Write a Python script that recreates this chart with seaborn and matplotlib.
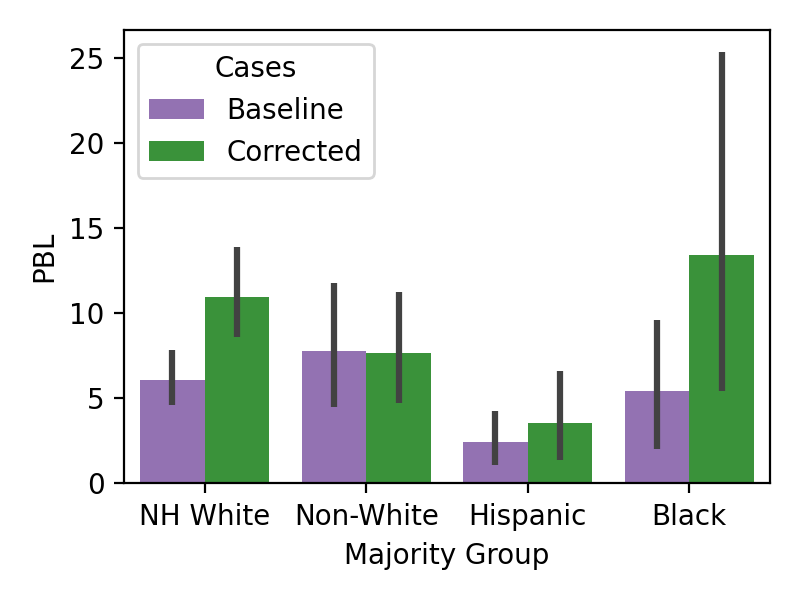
import matplotlib
matplotlib.use('Agg')
import matplotlib.pyplot as plt
import seaborn as sns
import pandas as pd
import numpy as np

# ── Data ───────────────────────────────────────────────────────────────────
groups = ['NH White', 'Non-White', 'Hispanic', 'Black']
cases = ['Baseline', 'Corrected']
baseline_mean = [6.1, 7.75, 2.45, 5.4]
corrected_mean = [10.95, 7.65, 3.55, 13.4]
baseline_lo = [4.6, 4.5, 1.1, 2.0]
baseline_hi = [7.85, 11.75, 4.25, 9.6]
corrected_lo = [8.6, 4.75, 1.4, 5.45]
corrected_hi = [13.9, 11.25, 6.6, 25.35]

df = pd.DataFrame({
    'Majority Group': groups * 2,
    'Cases': ['Baseline'] * 4 + ['Corrected'] * 4,
    'PBL': baseline_mean + corrected_mean,
    'lo': baseline_lo + corrected_lo,
    'hi': baseline_hi + corrected_hi,
})

fig, ax = plt.subplots(figsize=(4, 3), dpi=200)
sns.barplot(data=df, x='Majority Group', y='PBL', hue='Cases',
            order=groups, hue_order=cases,
            palette=['tab:purple', 'tab:green'], errorbar=None, ax=ax)

# error bars at the bar centres
for container, case in zip(ax.containers, cases):
    sub = df[df['Cases'] == case].set_index('Majority Group').loc[groups]
    for bar, lo, hi in zip(container.patches, sub['lo'], sub['hi']):
        xc = bar.get_x() + bar.get_width() / 2
        ax.plot([xc, xc], [lo, hi], color='.26', lw=2.25, solid_capstyle='butt')

ax.set_xlim(-0.5, len(groups) - 0.5)
ax.legend(title='Cases', loc='upper left')
plt.tight_layout()
plt.savefig('out.png', dpi=200)
plt.close()
